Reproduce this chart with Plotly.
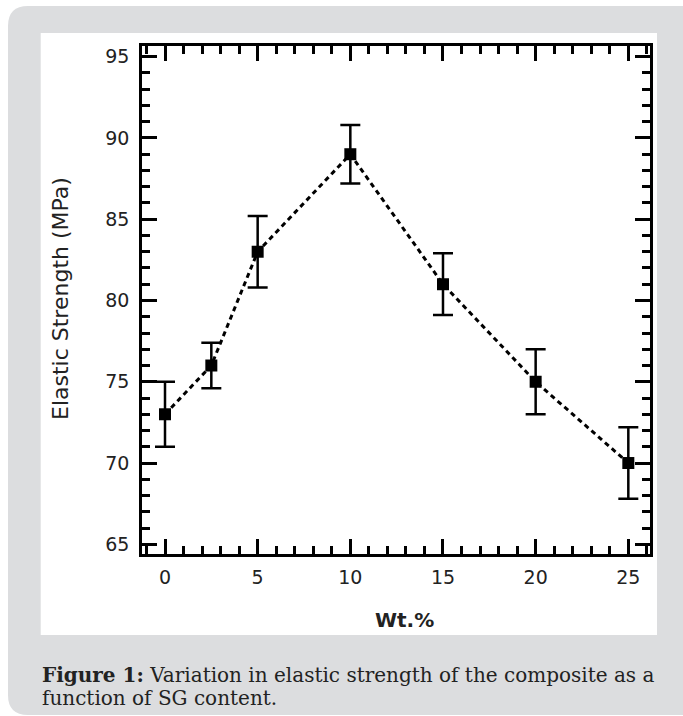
import plotly.graph_objects as go

# ---- data ----
wt_percent = [0, 2.5, 5, 10, 15, 20, 25]
elastic_strength = [73, 76, 83, 89, 81, 75, 70]
error_values = [2.0, 1.4, 2.2, 1.8, 1.9, 2.0, 2.2]
x_tick_values = [0, 5, 10, 15, 20, 25]
y_tick_values = [65, 70, 75, 80, 85, 90, 95]

x_title = "Wt.%"
y_title = "Elastic Strength (MPa)"
caption_line1 = "<b>Figure 1:</b> Variation in elastic strength of the composite as a"
caption_line2 = "function of SG content."

# ---- layout geometry (pixels) ----
W, H = 683, 716
L, R, T, B = 142, 650, 46, 554
PW, PH = R - L, B - T


def px(xp):
    return (xp - L) / PW


def py(yp):
    return (B - yp) / PH


def rounded_rect(x0, y0, x1, y1, r):
    X0, X1 = px(x0), px(x1)
    Y0, Y1 = py(y0), py(y1)
    rx, ry = r / PW, r / PH
    return (f"M {X0+rx},{Y0} L {X1-rx},{Y0} Q {X1},{Y0} {X1},{Y0-ry} "
            f"L {X1},{Y1+ry} Q {X1},{Y1} {X1-rx},{Y1} "
            f"L {X0+rx},{Y1} Q {X0},{Y1} {X0},{Y1+ry} "
            f"L {X0},{Y0-ry} Q {X0},{Y0} {X0+rx},{Y0} Z")


fig = go.Figure()
fig.add_trace(go.Scatter(
    x=wt_percent, y=elastic_strength,
    mode="lines+markers",
    line=dict(color="black", width=3, dash="5px,4px"),
    marker=dict(symbol="square", size=12, color="black"),
    error_y=dict(type="data", array=error_values, visible=True,
                 color="black", thickness=2.5, width=10),
    showlegend=False,
    cliponaxis=False,
))

tickfont = dict(family="DejaVu Sans", size=19, color="#222222")
axis_common = dict(
    showline=True, linewidth=2.5, linecolor="black", mirror="ticks",
    ticks="inside", ticklen=15, tickwidth=2.5, tickcolor="black",
    showgrid=False, zeroline=False, tickfont=tickfont,
)

x_lo = -1.241
x_hi = 26.17
y_lo = 64.403
y_hi = 95.658

fig.update_xaxes(range=[x_lo, x_hi], tickvals=x_tick_values,
                 minor=dict(dtick=1, tick0=0, ticks="inside", ticklen=8,
                            tickwidth=2.5, tickcolor="black", showgrid=False),
                 ticklabelstandoff=4,
                 **axis_common)
fig.update_yaxes(range=[y_lo, y_hi], tickvals=y_tick_values,
                 minor=dict(dtick=1, tick0=0, ticks="inside", ticklen=8,
                            tickwidth=2.5, tickcolor="black", showgrid=False),
                 ticklabelstandoff=6,
                 **axis_common)

shapes = [
    dict(type="path", xref="paper", yref="paper", layer="below",
         path=rounded_rect(8, 6, 720, 715, 20),
         fillcolor="#dcdddf", line=dict(width=0)),
    dict(type="rect", xref="paper", yref="paper", layer="below",
         x0=px(40.7), x1=px(657), y0=py(635), y1=py(33),
         fillcolor="white", line=dict(width=0)),
]

annotations = [
    dict(text="<b>" + x_title + "</b>", xref="paper", yref="paper", x=px(404), y=py(620),
         xanchor="center", yanchor="middle", showarrow=False,
         font=dict(family="DejaVu Sans", size=20, color="#222222")),
    dict(text=y_title, xref="paper", yref="paper", x=px(60), y=py(299),
         xanchor="center", yanchor="middle", showarrow=False, textangle=-90,
         font=dict(family="DejaVu Sans", size=22, color="#222222")),
    dict(text=caption_line1, xref="paper", yref="paper", x=px(40), y=py(675),
         xanchor="left", yanchor="middle", showarrow=False,
         font=dict(family="DejaVu Serif", size=20, color="#222222")),
    dict(text=caption_line2, xref="paper", yref="paper", x=px(40), y=py(698),
         xanchor="left", yanchor="middle", showarrow=False,
         font=dict(family="DejaVu Serif", size=20, color="#222222")),
]

fig.update_layout(
    width=W, height=H,
    margin=dict(l=L, r=W - R, t=T, b=H - B, pad=0),
    paper_bgcolor="white", plot_bgcolor="rgba(0,0,0,0)",
    shapes=shapes, annotations=annotations,
    showlegend=False,
)

fig.write_html("out.html", config={"displayModeBar": False},
               post_script="document.body.style.margin='0px';")
